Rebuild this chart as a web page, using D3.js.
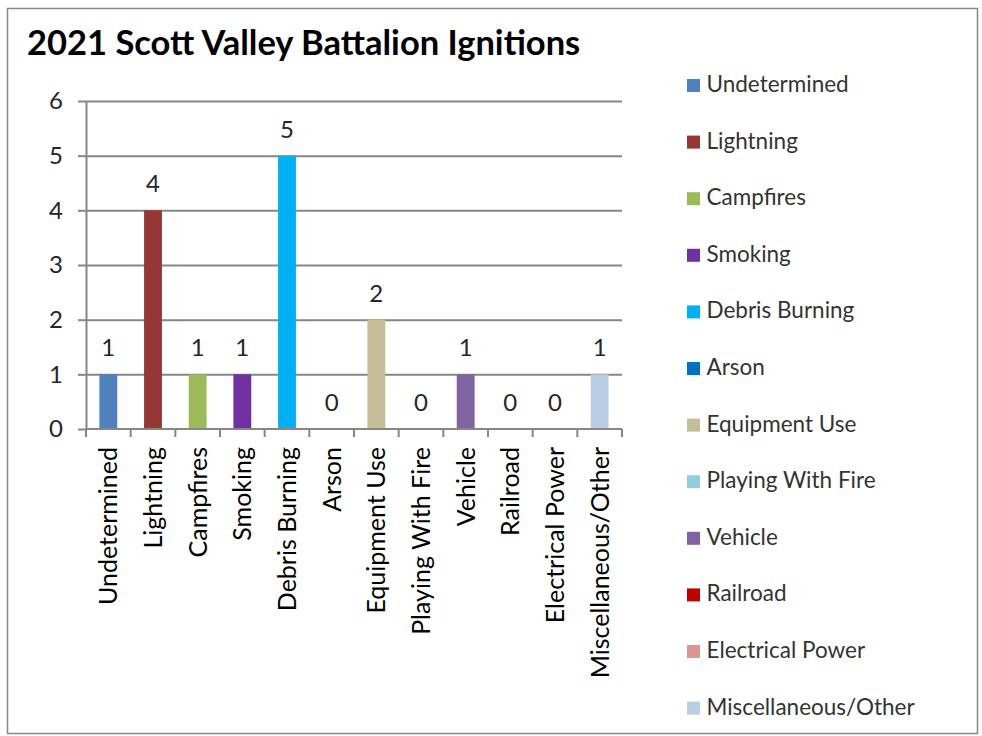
<!DOCTYPE html>
<html lang="en">
<head>
    <meta charset="UTF-8">
    <title>2021 Scott Valley Battalion Ignitions</title>
    <script src="https://d3js.org/d3.v7.min.js"></script>
    <style>
        body {
            margin: 0;
            background: #fff;
        }

        svg {
            display: block;
            font-family: Lato, "Open Sans", sans-serif;
        }

        .axis path,
        .axis line {
            stroke: #868686;
            stroke-width: 2px;
        }

        .grid line {
            stroke: #868686;
            stroke-width: 2px;
        }
    </style>
</head>
<body>
    <script>
        // data
        const causes = ["Undetermined", "Lightning", "Campfires", "Smoking", "Debris Burning", "Arson",
            "Equipment Use", "Playing With Fire", "Vehicle", "Railroad", "Electrical Power", "Miscellaneous/Other"];
        const counts = [1, 4, 1, 1, 5, 0, 2, 0, 1, 0, 0, 1];
        const colors = ["#4f81bd", "#953735", "#9bbb59", "#7030a0", "#00b0f0", "#0070c0",
            "#c4bd97", "#92cddc", "#8064a2", "#c00000", "#d99694", "#b9cde5"];
        const yTicks = [0, 1, 2, 3, 4, 5, 6];

        const w = 982;
        const h = 736;
        const plot = { left: 86, right: 622, top: 101, bottom: 429 };

        const svg = d3.select("body")
            .append("svg")
            .attr("width", w)
            .attr("height", h);

        // outer frame
        svg.append("rect")
            .attr("x", 7.5)
            .attr("y", 8.5)
            .attr("width", 970)
            .attr("height", 725)
            .attr("fill", "#fff")
            .attr("stroke", "#888")
            .attr("stroke-width", 1.5);

        svg.append("text")
            .attr("x", 27)
            .attr("y", 55)
            .attr("font-size", 34.5)
            .attr("font-weight", "bold")
            .attr("fill", "#000")
            .text("2021 Scott Valley Battalion Ignitions");

        const x = d3.scaleBand()
            .domain(causes)
            .range([plot.left, plot.right])
            .paddingInner(0.6)
            .paddingOuter(0.3);

        const y = d3.scaleLinear()
            .domain([0, 6])
            .range([plot.bottom, plot.top]);

        // gridlines
        svg.append("g")
            .attr("class", "grid")
            .attr("transform", "translate(" + plot.left + ",0)")
            .call(d3.axisLeft(y).tickValues(yTicks.slice(1)).tickSize(-(plot.right - plot.left)).tickFormat(""))
            .call((g) => g.select(".domain").remove());

        // y axis
        svg.append("g")
            .attr("class", "axis")
            .attr("transform", "translate(" + plot.left + ",0)")
            .call(d3.axisLeft(y).tickValues(yTicks).tickFormat(d3.format("d")).tickSize(8).tickSizeOuter(0).tickPadding(15))
            .call((g) => g.selectAll("text")
                .attr("font-family", "Lato, sans-serif")
                .attr("font-size", 24)
                .attr("fill", "#262626"));

        // bars
        svg.selectAll("rect.bar")
            .data(counts)
            .enter()
            .append("rect")
            .attr("class", "bar")
            .attr("x", (d, i) => x(causes[i]))
            .attr("y", (d) => y(d))
            .attr("width", x.bandwidth())
            .attr("height", (d) => y(0) - y(d))
            .attr("fill", (d, i) => colors[i]);

        // value labels
        svg.selectAll("text.value")
            .data(counts)
            .enter()
            .append("text")
            .attr("class", "value")
            .attr("x", (d, i) => x(causes[i]) + x.bandwidth() / 2)
            .attr("y", (d) => y(d) - 18)
            .attr("text-anchor", "middle")
            .attr("font-size", 24)
            .attr("fill", "#262626")
            .text((d) => d);

        // x axis: baseline, boundary ticks, rotated labels
        const xg = svg.append("g").attr("class", "axis");
        xg.append("line")
            .attr("x1", plot.left)
            .attr("x2", plot.right)
            .attr("y1", y(0))
            .attr("y2", y(0));
        xg.selectAll("line.tick")
            .data(d3.range(causes.length + 1))
            .enter()
            .append("line")
            .attr("class", "tick")
            .attr("x1", (i) => x.range()[0] + i * x.step())
            .attr("x2", (i) => x.range()[0] + i * x.step())
            .attr("y1", y(0))
            .attr("y2", y(0) + 8);
        xg.selectAll("text")
            .data(causes)
            .enter()
            .append("text")
            .attr("transform", (d) => "translate(" + (x(d) + x.bandwidth() / 2 + 9) + "," + (y(0) + 18) + ") rotate(-90)")
            .attr("text-anchor", "end")
            .attr("font-size", 25)
            .attr("fill", "#000")
            .text((d) => d);

        // legend
        const legend = svg.selectAll("g.legend")
            .data(causes)
            .enter()
            .append("g")
            .attr("class", "legend")
            .attr("transform", (d, i) => "translate(687," + (79 + i * 56.6) + ")");
        legend.append("rect")
            .attr("width", 13)
            .attr("height", 13)
            .attr("fill", (d, i) => colors[i]);
        legend.append("text")
            .attr("x", 19.5)
            .attr("y", 13)
            .attr("font-size", 22.5)
            .attr("fill", "#333")
            .text((d) => d);
    </script>
</body>
</html>
